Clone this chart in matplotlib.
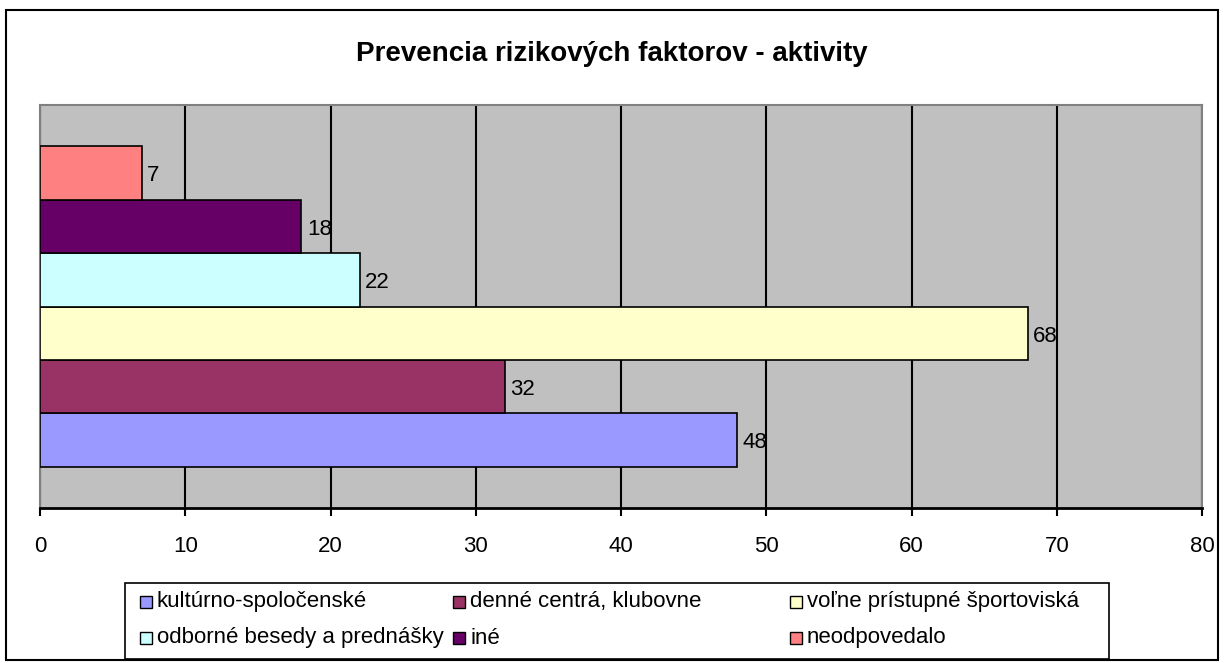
import matplotlib
matplotlib.use("Agg")
import matplotlib.pyplot as plt
from matplotlib.patches import Rectangle

plt.rcParams["font.family"] = ["Liberation Sans", "DejaVu Sans"]

TITLE = "Prevencia rizikových faktorov - aktivity"
labels = ["kultúrno-spoločenské", "denné centrá, klubovne", "voľne prístupné športoviská",
          "odborné besedy a prednášky", "iné", "neodpovedalo"]
values = [48, 32, 68, 22, 18, 7]
colors = ["#9999FF", "#993366", "#FFFFCC", "#CCFFFF", "#660066", "#FF8080"]
xticks = [0, 10, 20, 30, 40, 50, 60, 70, 80]

W, H = 1224, 663
fig = plt.figure(figsize=(W / 100, H / 100), dpi=100)
fig.patches.append(Rectangle((6 / W, 1 - 660 / H), 1212 / W, 650 / H, transform=fig.transFigure,
                             fill=False, edgecolor="black", linewidth=1.5))

ax = fig.add_axes([40 / W, 1 - 508 / H, 1162 / W, 403 / H])
ax.set_facecolor("#C0C0C0")
ypos = list(range(len(values)))
ax.barh(ypos, values, height=1.0, color=colors, edgecolor="black", linewidth=1.2, zorder=3)
for y, v in zip(ypos, values):
    ax.annotate(str(v), (v, y), xytext=(4, -2), textcoords="offset points",
                ha="left", va="center", fontsize=16, zorder=4)

ax.set_xlim(0, 80)
ax.set_ylim(-0.5 - 0.77, 5.5 + 0.77)
ax.set_xticks(xticks)
ax.set_yticks([])
ax.tick_params(axis="x", length=6, width=1.5, labelsize=16, pad=14, color="black")
ax.grid(axis="x", color="black", linewidth=1.5, zorder=1)
for s in ["top", "left", "right"]:
    ax.spines[s].set_color("#808080")
    ax.spines[s].set_linewidth(1.5)
ax.spines["bottom"].set_color("black")
ax.spines["bottom"].set_linewidth(2)

fig.text(0.5, 1 - 54 / H, TITLE, ha="center", va="center", fontsize=20, fontweight="bold")

# legend drawn by hand to match the column layout
fig.patches.append(Rectangle((125 / W, 1 - 659 / H), 984 / W, 76 / H, transform=fig.transFigure,
                             fill=False, edgecolor="black", linewidth=1.2))
col_x = [140, 453, 790]
row_y = [602, 638]
for i, (lab, c) in enumerate(zip(labels, colors)):
    r, k = divmod(i, 3)
    x, y = col_x[k], row_y[r]
    fig.patches.append(Rectangle((x / W, 1 - (y + 6) / H), 12 / W, 12 / H,
                                 transform=fig.transFigure, facecolor=c,
                                 edgecolor="black", linewidth=1))
    fig.text((x + 17) / W, 1 - y / H, lab, ha="left", va="center", fontsize=16)

fig.savefig("out.png", dpi=100)
